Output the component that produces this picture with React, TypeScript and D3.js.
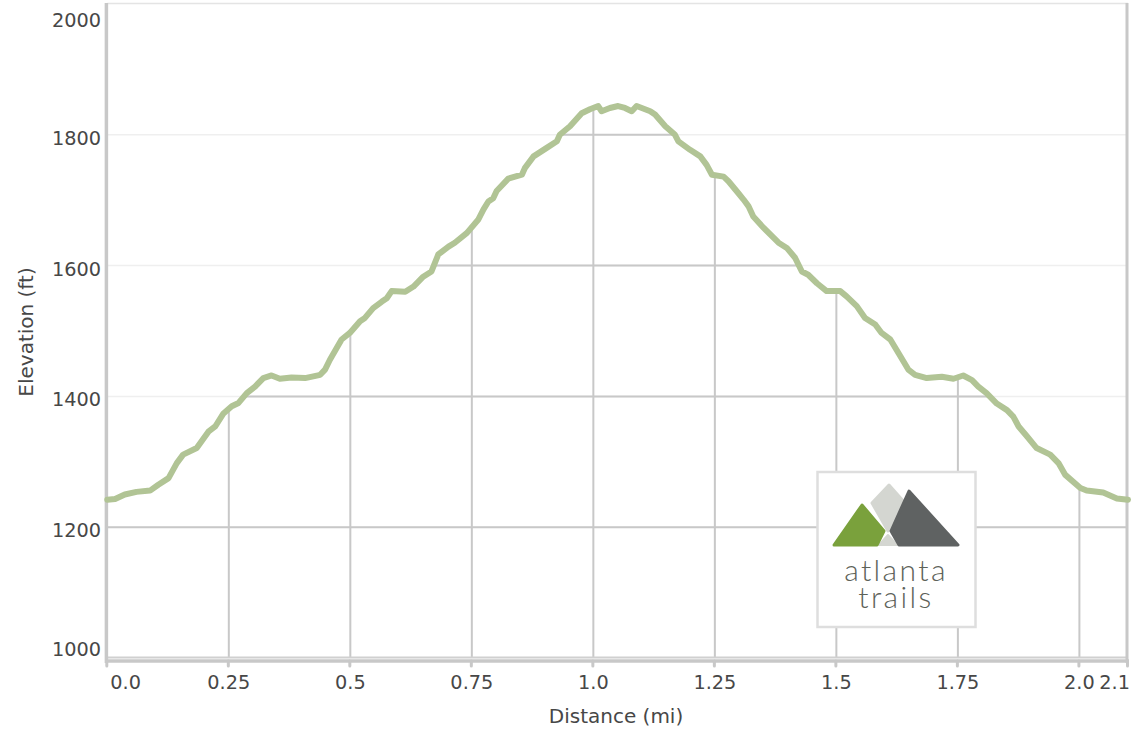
import React from "react";
import * as d3 from "d3";

const distance = [
  0.0, 0.016, 0.036, 0.06, 0.088, 0.105, 0.126, 0.143, 0.156, 0.184, 0.208, 0.222, 0.239, 0.256, 0.27,
  0.287, 0.304, 0.321, 0.338, 0.355, 0.379, 0.407, 0.438, 0.448, 0.458, 0.482, 0.499, 0.52, 0.53,
  0.547, 0.565, 0.575, 0.585, 0.613, 0.63, 0.65, 0.667, 0.681, 0.702, 0.715, 0.74, 0.763, 0.774,
  0.784, 0.794, 0.801, 0.825, 0.853, 0.859, 0.877, 0.904, 0.925, 0.931, 0.952, 0.976, 0.993, 1.01,
  1.017, 1.034, 1.051, 1.065, 1.079, 1.089, 1.117, 1.127, 1.148, 1.168, 1.175, 1.199, 1.22, 1.233,
  1.244, 1.268, 1.278, 1.298, 1.309, 1.319, 1.329, 1.35, 1.381, 1.398, 1.415, 1.429, 1.442, 1.46,
  1.48, 1.508, 1.521, 1.542, 1.559, 1.58, 1.593, 1.611, 1.628, 1.648, 1.662, 1.686, 1.717, 1.741,
  1.761, 1.779, 1.792, 1.809, 1.83, 1.851, 1.864, 1.875, 1.892, 1.912, 1.94, 1.957, 1.971, 2.002,
  2.015, 2.049, 2.077, 2.1,
];

const elevation = [
  1242, 1243, 1250, 1254, 1256, 1265, 1275, 1298, 1311, 1321, 1346, 1354, 1374, 1385, 1390,
  1405, 1415, 1428, 1432, 1427, 1429, 1428, 1433, 1441, 1456, 1487, 1497, 1515, 1520,
  1535, 1545, 1550, 1561, 1560, 1568, 1583, 1591, 1617, 1629, 1635, 1650, 1670, 1686,
  1698, 1703, 1714, 1733, 1739, 1749, 1767, 1780, 1790, 1800, 1813, 1833, 1839, 1844,
  1836, 1841, 1844, 1841, 1836, 1844, 1836, 1831, 1813, 1800, 1790, 1777, 1767, 1754,
  1739, 1736, 1729, 1711, 1701, 1691, 1675, 1658, 1635, 1627, 1612, 1591, 1586, 1573,
  1561, 1561, 1553, 1538, 1520, 1510, 1497, 1487, 1466, 1441, 1433, 1428, 1430, 1427,
  1432, 1425, 1415, 1405, 1389, 1379, 1369, 1354, 1339, 1321, 1311, 1298, 1280, 1260,
  1256, 1253, 1244, 1242,
];

const xTickValues = [0, 0.25, 0.5, 0.75, 1.0, 1.25, 1.5, 1.75, 2.0, 2.1];
const xTickLabels = ["0.0", "0.25", "0.5", "0.75", "1.0", "1.25", "1.5", "1.75", "2.0", "2.1"];
const yTickValues = [1000, 1200, 1400, 1600, 1800, 2000];
const yTickLabels = ["1000", "1200", "1400", "1600", "1800", "2000"];

const xAxisTitle = "Distance (mi)";
const yAxisTitle = "Elevation (ft)";
const logoLines = ["atlanta", "trails"];

const W = 1140;
const H = 732;
const LEFT = 107.3;
const RIGHT = 1128;
const TOP = 4;
const BOTTOM = 658;

const FONT = "Verdana, 'DejaVu Sans', sans-serif";

export default function App() {
  const x = d3.scaleLinear().domain([0, 2.1]).range([LEFT, RIGHT]);
  const y = d3.scaleLinear().domain([1000, 2000]).range([BOTTOM, TOP]);

  const pts: [number, number][] = distance.map((d, i) => [d, elevation[i]]);
  const line = d3
    .line<[number, number]>()
    .x((d) => x(d[0]))
    .y((d) => y(d[1]));
  const area = d3
    .area<[number, number]>()
    .x((d) => x(d[0]))
    .y0(BOTTOM + 2)
    .y1((d) => y(d[1]));

  const gridV = xTickValues.filter((v) => v > 0 && v < 2.1);
  const gridH = yTickValues.filter((v) => v > 1000 && v < 2000);

  return (
    <svg
      width={W}
      height={H}
      style={{ position: "absolute", left: 0, top: 0, background: "#fff" }}
    >
      <defs>
        <clipPath id="under">
          <path d={area(pts) || ""} />
        </clipPath>
      </defs>

      {/* light grid */}
      {gridH.map((v) => (
        <line key={"lh" + v} x1={LEFT} x2={RIGHT} y1={y(v)} y2={y(v)} stroke="#efefef" strokeWidth={1.5} />
      ))}
      <line x1={LEFT} x2={RIGHT} y1={3.5} y2={3.5} stroke="#e4e4e4" strokeWidth={1.5} />

      {/* dark grid under the curve */}
      <g clipPath="url(#under)">
        {gridH.map((v) => (
          <line key={"dh" + v} x1={LEFT} x2={RIGHT} y1={y(v)} y2={y(v)} stroke="#c8c8c8" strokeWidth={2} />
        ))}
        {gridV.map((v) => (
          <line key={"dv" + v} x1={x(v)} x2={x(v)} y1={TOP} y2={BOTTOM} stroke="#c8c8c8" strokeWidth={2} />
        ))}
        <line x1={LEFT} x2={RIGHT} y1={BOTTOM - 0.5} y2={BOTTOM - 0.5} stroke="#d0d0d0" strokeWidth={2} />
      </g>

      {/* axes */}
      <line x1={106.4} x2={106.4} y1={3} y2={663} stroke="#c8c8c8" strokeWidth={3.5} />
      <line x1={1127} x2={1127} y1={3} y2={663} stroke="#c8c8c8" strokeWidth={3} />
      <line x1={105} x2={1129} y1={661} y2={661} stroke="#c8c8c8" strokeWidth={3.5} />
      {xTickValues.map((v) => (
        <line key={"t" + v} x1={x(v) - 0.5} x2={x(v) - 0.5} y1={661} y2={666} stroke="#c8c8c8" strokeWidth={3} strokeLinecap="round" />
      ))}

      {/* logo */}
      <g>
        <rect x={817.5} y={472} width={158} height={155} fill="#fff" stroke="#dedede" strokeWidth={2.5} />
        <polygon
          points="889,485 905,503 888,531 872,503"
          fill="#d4d6d1"
          stroke="#d4d6d1"
          strokeWidth={3}
          strokeLinejoin="round"
        />
        <polygon points="888,535 897,545 879,545" fill="#d4d6d1" stroke="#d4d6d1" strokeWidth={2} strokeLinejoin="round" />
        <polygon
          points="862,505 884,531 877,545 834,545"
          fill="#7aa13c"
          stroke="#7aa13c"
          strokeWidth={3}
          strokeLinejoin="round"
        />
        <polygon
          points="909,491 958,545 899,545 891,531"
          fill="#5f6262"
          stroke="#5f6262"
          strokeWidth={3}
          strokeLinejoin="round"
        />
        <text
          textAnchor="middle"
          fontFamily="Lato, 'Open Sans', sans-serif"
          fontWeight={300}
          fontSize={30}
          letterSpacing={2.4}
          fill="#5d6259"
        >
          <tspan x={896} y={581}>{logoLines[0]}</tspan>
          <tspan x={896} y={608}>{logoLines[1]}</tspan>
        </text>
      </g>

      {/* elevation line */}
      <path
        d={line(pts) || ""}
        fill="none"
        stroke="#b1c495"
        strokeWidth={6}
        strokeLinejoin="round"
        strokeLinecap="round"
      />

      {/* y tick labels */}
      {yTickValues.map((v, i) => (
        <text
          key={"yl" + v}
          x={101}
          y={Math.min(Math.max(y(v) + 10, 26.7), 656)}
          textAnchor="end"
          fontFamily={FONT}
          fontSize={19.3}
          fill="#474747"
        >
          {yTickLabels[i]}
        </text>
      ))}

      {/* x tick labels */}
      {xTickValues.map((v, i) => {
        const first = i === 0;
        const last = i === xTickValues.length - 1;
        return (
          <text
            key={"xl" + v}
            x={first ? x(v) + 3 : last ? x(v) + 2 : x(v)}
            y={689}
            textAnchor={first ? "start" : last ? "end" : "middle"}
            fontFamily={FONT}
            fontSize={19.3}
            fill="#474747"
          >
            {xTickLabels[i]}
          </text>
        );
      })}

      {/* axis titles */}
      <text x={616} y={723} textAnchor="middle" fontFamily={FONT} fontSize={20} fill="#474747">
        {xAxisTitle}
      </text>
      <text
        transform="translate(33,332) rotate(-90)"
        textAnchor="middle"
        fontFamily={FONT}
        fontSize={20}
        fill="#474747"
      >
        {yAxisTitle}
      </text>
    </svg>
  );
}
